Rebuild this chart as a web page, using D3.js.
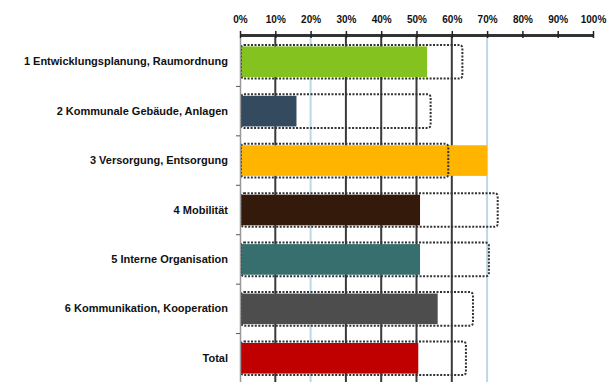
<!DOCTYPE html>
<html><head><meta charset="utf-8">
<script src="https://cdn.jsdelivr.net/npm/d3@7/dist/d3.min.js"></script>
<style>body{margin:0;background:#fff}svg{display:block}</style>
</head><body><svg id="c" width="612" height="382"></svg>
<script>
const categories = ["1 Entwicklungsplanung, Raumordnung","2 Kommunale Gebäude, Anlagen","3 Versorgung, Entsorgung","4 Mobilität","5 Interne Organisation","6 Kommunikation, Kooperation","Total"];
const achieved = [0.53, 0.16, 0.70, 0.51, 0.51, 0.56, 0.505];
const potential = [0.63, 0.54, 0.59, 0.73, 0.705, 0.66, 0.64];
const barColors = ["#84C21F","#344A5E","#FFB400","#341A0A","#376E6E","#4D4D4D","#C00000"];
const tickValues = [0,0.1,0.2,0.3,0.4,0.5,0.6,0.7,0.8,0.9,1.0];
const gridValues = [0.1,0.2,0.3,0.4,0.5,0.6,0.7];

const svg = d3.select("#c");
const x = d3.scaleLinear().domain([0,1]).range([240,593]);
const y = d3.scaleBand().domain(categories).range([37,383]).paddingInner(0.38).paddingOuter(0.19);

// gridlines
svg.append("g").selectAll("line").data(gridValues).join("line")
  .attr("x1",d=>x(d)).attr("x2",d=>x(d)).attr("y1",36).attr("y2",382)
  .attr("stroke",(d,i)=> (i===1||i===6) ? "#bcd8e8" : "#3a3a3a").attr("stroke-width",2);

// bars
svg.append("g").selectAll("rect").data(categories).join("rect")
  .attr("x",x(0)).attr("y",d=>y(d)).attr("height",y.bandwidth())
  .attr("width",(d,i)=>x(achieved[i])-x(0)).attr("fill",(d,i)=>barColors[i]);

// potential outline
svg.append("g").selectAll("rect").data(categories).join("rect")
  .attr("x",x(0)+1).attr("y",d=>y(d)-1.5).attr("height",y.bandwidth()+3)
  .attr("width",(d,i)=>x(potential[i])-x(0)-1).attr("rx",3)
  .attr("fill","none").attr("stroke","#333").attr("stroke-width",2).attr("stroke-dasharray","2,1.5");

// left axis
const ya = svg.append("g").attr("transform",`translate(${x(0)},0)`)
  .call(d3.axisLeft(y).tickSize(0).tickPadding(12));
ya.select(".domain").attr("stroke","#999").attr("stroke-width",1.5);
ya.selectAll("text").attr("font-family","Liberation Sans, Arial, sans-serif").attr("font-size",11).attr("font-weight","bold").attr("fill","#111");
// band separator ticks
const step = y.step();
svg.append("g").selectAll("line").data(categories.slice(1)).join("line")
  .attr("x1",x(0)-4).attr("x2",x(0))
  .attr("y1",d=>y(d)-step*y.paddingInner()/2).attr("y2",d=>y(d)-step*y.paddingInner()/2)
  .attr("stroke","#555").attr("stroke-width",1);

// top axis
const xa = svg.append("g").attr("transform","translate(0,35)")
  .call(d3.axisTop(x).tickValues(tickValues).tickFormat(d3.format(".0%")).tickSizeInner(4).tickSizeOuter(0).tickPadding(8));
xa.select(".domain").attr("stroke","#333").attr("stroke-width",3);
xa.selectAll(".tick line").attr("stroke","#222").attr("stroke-width",1.5).attr("y2",-4).attr("y1",3);
xa.selectAll("text").attr("font-family","Liberation Sans, Arial, sans-serif").attr("font-size",10).attr("font-weight","bold").attr("fill","#111");
</script></body></html>
